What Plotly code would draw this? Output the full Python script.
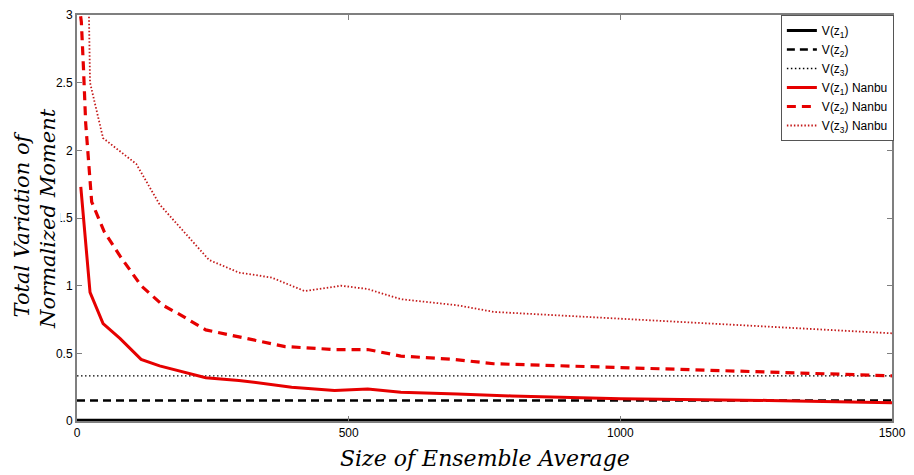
import plotly.graph_objects as go

# ensemble sizes / values
x_const = [0, 1500]
v1_const = [0.005, 0.005]
v2_const = [0.152, 0.152]
v3_const = [0.334, 0.334]

x_n1 = [7, 24, 48, 79, 118, 152, 237, 298, 395, 474, 535, 596, 700, 800, 1000, 1272, 1500]
v1_nanbu = [1.73, 0.95, 0.72, 0.61, 0.455, 0.407, 0.32, 0.30, 0.25, 0.225, 0.237, 0.213, 0.20, 0.185, 0.165, 0.152, 0.135]

x_n2 = [3, 8, 12, 16, 27, 50, 79, 118, 158, 188, 237, 310, 383, 474, 535, 596, 694, 767, 1000, 1272, 1500]
v2_nanbu = [3.1, 2.95, 2.6, 2.2, 1.62, 1.4, 1.22, 1.0, 0.855, 0.79, 0.673, 0.61, 0.55, 0.528, 0.528, 0.48, 0.455, 0.423, 0.395, 0.358, 0.334]

x_n3 = [18, 22, 24, 48, 109, 152, 243, 298, 358, 419, 486, 535, 596, 700, 767, 1000, 1272, 1500]
v3_nanbu = [3.4, 3.0, 2.5, 2.09, 1.9, 1.6, 1.19, 1.097, 1.06, 0.96, 1.0, 0.975, 0.90, 0.855, 0.806, 0.757, 0.697, 0.648]

RED = "#e60000"
DRED = "#c41a1a"
TITLE_FONT = "DejaVu Serif"

fig = go.Figure()
fig.add_trace(go.Scatter(x=x_const, y=v1_const, mode="lines", name="V(z<sub>1</sub>)",
                         line=dict(color="black", width=3)))
fig.add_trace(go.Scatter(x=x_const, y=v2_const, mode="lines", name="V(z<sub>2</sub>)",
                         line=dict(color="black", width=2.5, dash="8px,5px")))
fig.add_trace(go.Scatter(x=x_const, y=v3_const, mode="lines", name="V(z<sub>3</sub>)",
                         line=dict(color="black", width=1.3, dash="1.5px,2.5px")))
fig.add_trace(go.Scatter(x=x_n1, y=v1_nanbu, mode="lines", name="V(z<sub>1</sub>) Nanbu",
                         line=dict(color=RED, width=3)))
fig.add_trace(go.Scatter(x=x_n2, y=v2_nanbu, mode="lines", name="V(z<sub>2</sub>) Nanbu",
                         line=dict(color=RED, width=3.2, dash="9px,6px")))
fig.add_trace(go.Scatter(x=x_n3, y=v3_nanbu, mode="lines", name="V(z<sub>3</sub>) Nanbu",
                         line=dict(color=DRED, width=1.8, dash="1.5px,2px")))

axis_common = dict(
    showline=True, linecolor="#7f7f7f", linewidth=2, mirror="ticks",
    ticks="inside", ticklen=5, tickcolor="#7f7f7f", showgrid=False, zeroline=False,
    tickfont=dict(family="Liberation Sans", size=12, color="black"),
)

fig.update_xaxes(range=[0, 1500], tickvals=[0, 500, 1000, 1500], **axis_common)
fig.update_yaxes(range=[0, 3], tickvals=[0, 0.5, 1, 1.5, 2, 2.5, 3],
                 ticktext=["0", "0.5", "1", "1.5", "2", "2.5", "3"], **axis_common)

# axis titles as annotations (the y title sits over part of the tick labels)
fig.add_annotation(text="<i>Size of Ensemble Average</i>", xref="paper", yref="paper",
                   x=0.5, y=-0.092, xanchor="center", yanchor="middle", showarrow=False,
                   font=dict(family=TITLE_FONT, size=22, color="black"))
fig.add_annotation(text="<i>Total Variation of</i>", xref="paper", yref="paper",
                   x=-0.068, y=0.483, xanchor="center", yanchor="middle", showarrow=False,
                   textangle=-90, bgcolor="white", borderpad=0,
                   font=dict(family=TITLE_FONT, size=21, color="black"))
fig.add_annotation(text="<i>Normalized Moment</i>", xref="paper", yref="paper",
                   x=-0.035, y=0.499, xanchor="center", yanchor="middle", showarrow=False,
                   textangle=-90, bgcolor="white", borderpad=0,
                   font=dict(family=TITLE_FONT, size=21, color="black"))

fig.update_layout(
    width=914, height=475,
    margin=dict(l=77, r=16, t=8, b=54),
    plot_bgcolor="white", paper_bgcolor="white",
    showlegend=True,
    legend=dict(x=1.0023, y=1.0, xanchor="right", yanchor="top",
                bordercolor="#555555", borderwidth=1, bgcolor="white",
                font=dict(family="Liberation Sans", size=12, color="black"),
                tracegroupgap=0, itemwidth=30),
)

fig.write_html("out.html", config={"displayModeBar": False},
               post_script="document.body.style.margin='0';")
